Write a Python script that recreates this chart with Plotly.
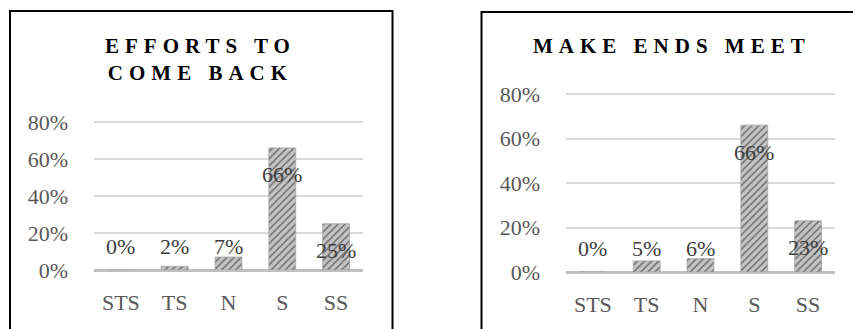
import plotly.graph_objects as go

categories = ["STS", "TS", "N", "S", "SS"]
effort_values = [0.00, 0.02, 0.07, 0.66, 0.25]
meet_values = [0.00, 0.05, 0.06, 0.66, 0.23]
tick_vals = [0, 0.2, 0.4, 0.6, 0.8]
tick_text = ["0%", "20%", "40%", "60%", "80%"]
titles = ["EFFORTS TO<br>COME BACK", "MAKE ENDS MEET"]

W, H = 853, 329
FONT = "Liberation Serif"
TXT = "#595959"
YMAX = 0.84

def px(x):
    return x / W

def py(y):
    return 1 - y / H

fig = go.Figure()

panels = [
    dict(vals=effort_values, x0=94, x1=363, y0=270, y1=122, box=(10, 11, 392.5, 340), title=titles[0], ty=59.5, tx=200),
    dict(vals=meet_values, x0=566, x1=835, y0=272, y1=94, box=(481.5, 12, 870, 340), title=titles[1], ty=46, tx=672),
]

for i, p in enumerate(panels):
    xa = "x" if i == 0 else "x2"
    ya = "y" if i == 0 else "y2"
    fig.add_trace(go.Bar(
        x=categories, y=p["vals"], xaxis=xa, yaxis=ya, width=0.5,
        marker=dict(color="#c4c4c4", line=dict(color="#a6a6a6", width=0.8),
                    pattern=dict(shape="/", fgcolor="#6f6f6f", bgcolor="#c4c4c4", size=5, solidity=0.3)),
        showlegend=False, hoverinfo="skip",
    ))
    for c, v in zip(categories, p["vals"]):
        inside = v >= 0.2
        fig.add_annotation(
            x=c, y=v if inside else 0, xref=xa, yref=ya,
            text=f"{round(v*100)}%", showarrow=False,
            yanchor="middle", yshift=-27 if inside else 24,
            font=dict(family=FONT, size=22, color="#404040"),
        )
    bx0, by0, bx1, by1 = p["box"]
    fig.add_shape(type="rect", xref="paper", yref="paper",
                  x0=px(bx0), x1=px(bx1), y0=py(by1), y1=py(by0),
                  line=dict(color="black", width=2), fillcolor="rgba(0,0,0,0)", layer="above")
    sp = '<span style="letter-spacing:6px">'
    fig.add_annotation(
        x=px(p["tx"]), y=py(p["ty"]), xref="paper", yref="paper",
        text=sp + p["title"].replace("<br>", "</span><br>" + sp) + "</span>",
        showarrow=False, xanchor="center", yanchor="middle",
        font=dict(family=FONT, size=21, color="black", weight="bold"),
    )
    # domain computed so that 0..0.8 maps to the reference pixel rows
    ytop = p["y0"] - (p["y0"] - p["y1"]) * YMAX / 0.8
    xkey = "xaxis" if i == 0 else "xaxis2"
    ykey = "yaxis" if i == 0 else "yaxis2"
    fig.update_layout({
        xkey: dict(domain=[px(p["x0"]), px(p["x1"])], anchor=ya, automargin=False,
                   showgrid=False, showline=False, zeroline=False,
                   tickfont=dict(family=FONT, size=22, color=TXT),
                   ticks="", ticklabelstandoff=17, fixedrange=True),
        ykey: dict(domain=[py(p["y0"]), py(ytop)], anchor=xa, range=[0, YMAX], automargin=False,
                   tickvals=tick_vals, ticktext=tick_text,
                   showgrid=True, gridcolor="#d9d9d9", gridwidth=1.5,
                   zeroline=True, zerolinecolor="#bfbfbf", zerolinewidth=3,
                   showline=False, ticks="", ticklabelstandoff=25,
                   tickfont=dict(family=FONT, size=22, color=TXT), fixedrange=True),
    })

fig.update_layout(
    template="none",
    width=W, height=H, margin=dict(l=0, r=0, t=0, b=0, autoexpand=False),
    paper_bgcolor="white", plot_bgcolor="white", bargap=0.5,
)

fig.write_html("out.html")
